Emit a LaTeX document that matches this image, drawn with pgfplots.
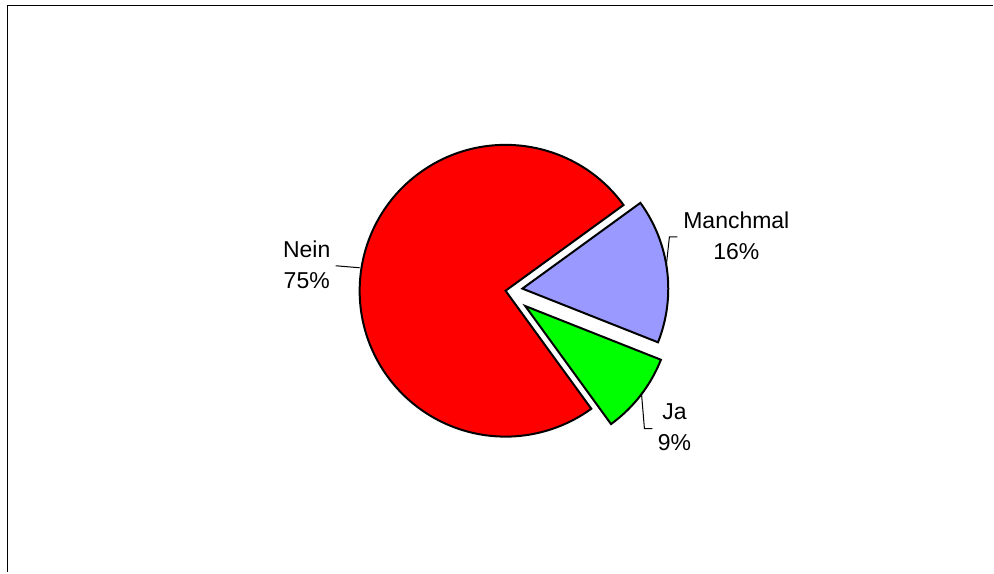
\documentclass[border=0pt]{standalone}
\usepackage{pgfplots}
\pgfplotsset{compat=1.18}
\usepackage{fontspec}
\setmainfont{Liberation Sans}
\definecolor{nein}{RGB}{255,0,0}
\definecolor{manch}{RGB}{153,153,255}
\definecolor{ja}{RGB}{0,255,0}
\begin{document}
\begin{tikzpicture}
\begin{axis}[
  width=497pt, height=286.5pt, scale only axis,
  xmin=0, xmax=994, ymin=0, ymax=573, y dir=reverse,
  hide axis, clip=false,
]
% page extent and frame
\path (axis cs:0,0) -- (axis cs:994,573);
\draw[line width=0.9pt] (axis cs:7.5,573) -- (axis cs:7.5,5.5) -- (axis cs:994,5.5);
% wedges: share in %, explode in px, colour; start at 36 deg
\gdef\cum{36}
\foreach \v/\off/\col in {75/0/nein,9/25/ja,16/17/manch}{
  \pgfmathsetmacro\s{\cum}
  \pgfmathsetmacro\e{\cum+3.6*\v}
  \pgfmathsetmacro\m{(\s+\e)/2}
  \pgfmathsetmacro\d{0.5*\off}
  \edef\wedge{\noexpand\filldraw[fill=\col, draw=black, line width=1pt, line join=miter]
    ([shift={(\m:\d pt)}]axis cs:506,291) -- ++(\s:73pt)
    arc[start angle=\s, end angle=\e, radius=73pt] -- cycle;}
  \wedge
  \xdef\cum{\e}
}
% leader lines
\draw[line width=0.5pt] (axis cs:336,266) -- (axis cs:360,268);
\draw[line width=0.5pt] (axis cs:678,237) -- (axis cs:670,237) -- (axis cs:667,265);
\draw[line width=0.5pt] (axis cs:642,393) -- (axis cs:645,429) -- (axis cs:653,429);
% labels
\tikzset{lbl/.style={align=center, inner sep=0pt, font=\fontsize{11.5}{15.5}\selectfont}}
\node[lbl] at (axis cs:307,265) {Nein\\75\%};
\node[lbl] at (axis cs:737,236) {Manchmal\\16\%};
\node[lbl] at (axis cs:675,428) {Ja\\9\%};
\end{axis}
\end{tikzpicture}
\end{document}
